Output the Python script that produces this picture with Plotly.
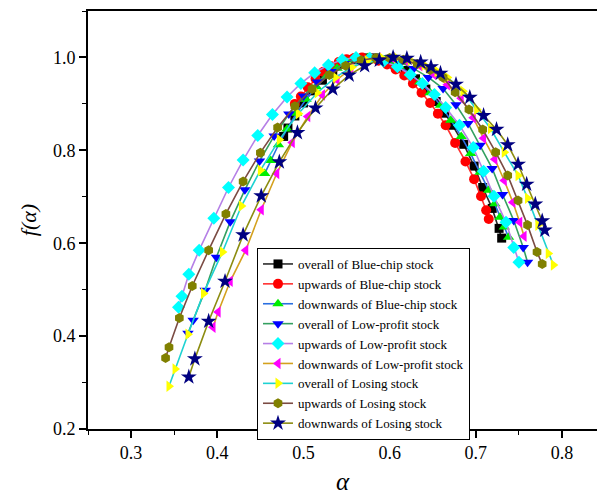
import plotly.graph_objects as go

series_names = [
    "overall of Blue-chip stock",
    "upwards of Blue-chip stock",
    "downwards of Blue-chip stock",
    "overall of Low-profit stock",
    "upwards of Low-profit stock",
    "downwards of Low-profit stock",
    "overall of Losing stock",
    "upwards of Losing stock",
    "downwards of Losing stock",
]

bc_overall_alpha = [0.477, 0.482, 0.490, 0.500, 0.511, 0.522, 0.534, 0.546, 0.558, 0.570, 0.582, 0.594, 0.606, 0.618, 0.630, 0.642, 0.654, 0.664, 0.673, 0.686, 0.698, 0.708, 0.719, 0.727, 0.730]
bc_overall_f = [0.830, 0.848, 0.874, 0.902, 0.928, 0.951, 0.971, 0.985, 0.995, 0.999, 0.999, 0.995, 0.985, 0.972, 0.954, 0.932, 0.905, 0.880, 0.854, 0.813, 0.766, 0.720, 0.675, 0.632, 0.611]

bc_up_alpha = [0.490, 0.497, 0.505, 0.514, 0.523, 0.532, 0.541, 0.550, 0.559, 0.568, 0.577, 0.587, 0.597, 0.607, 0.617, 0.627, 0.637, 0.647, 0.656, 0.665, 0.676, 0.688, 0.698, 0.706, 0.712, 0.715]
bc_up_f = [0.900, 0.916, 0.936, 0.954, 0.969, 0.981, 0.990, 0.996, 0.999, 1.000, 0.998, 0.993, 0.985, 0.974, 0.961, 0.944, 0.924, 0.902, 0.879, 0.854, 0.816, 0.776, 0.738, 0.701, 0.671, 0.652]

bc_down_alpha = [0.455, 0.462, 0.471, 0.481, 0.492, 0.503, 0.515, 0.527, 0.539, 0.551, 0.563, 0.575, 0.587, 0.599, 0.611, 0.623, 0.635, 0.647, 0.659, 0.671, 0.683, 0.694, 0.705, 0.715, 0.722, 0.728, 0.733, 0.738]
bc_down_f = [0.750, 0.778, 0.812, 0.846, 0.880, 0.910, 0.937, 0.960, 0.977, 0.990, 0.997, 1.000, 0.998, 0.992, 0.981, 0.966, 0.947, 0.924, 0.897, 0.865, 0.830, 0.793, 0.753, 0.714, 0.685, 0.656, 0.635, 0.613]

lp_overall_alpha = [0.366, 0.372, 0.386, 0.399, 0.415, 0.432, 0.449, 0.466, 0.483, 0.500, 0.516, 0.532, 0.548, 0.564, 0.580, 0.596, 0.612, 0.628, 0.645, 0.662, 0.677, 0.691, 0.705, 0.719, 0.731, 0.744, 0.755, 0.760]
lp_overall_f = [0.406, 0.434, 0.499, 0.570, 0.646, 0.715, 0.777, 0.831, 0.878, 0.917, 0.947, 0.970, 0.987, 0.997, 1.000, 0.997, 0.990, 0.976, 0.957, 0.933, 0.898, 0.858, 0.811, 0.761, 0.705, 0.649, 0.591, 0.559]

lp_up_alpha = [0.355, 0.359, 0.367, 0.379, 0.396, 0.413, 0.430, 0.447, 0.464, 0.481, 0.497, 0.513, 0.529, 0.545, 0.561, 0.577, 0.593, 0.609, 0.624, 0.638, 0.652, 0.665, 0.681, 0.697, 0.709, 0.721, 0.735, 0.744, 0.750]
lp_up_f = [0.462, 0.486, 0.533, 0.585, 0.654, 0.720, 0.779, 0.832, 0.877, 0.915, 0.944, 0.967, 0.984, 0.995, 1.000, 0.998, 0.992, 0.980, 0.963, 0.944, 0.920, 0.892, 0.854, 0.806, 0.755, 0.701, 0.645, 0.591, 0.559]

lp_down_alpha = [0.395, 0.401, 0.415, 0.433, 0.451, 0.469, 0.487, 0.505, 0.522, 0.539, 0.555, 0.571, 0.587, 0.603, 0.619, 0.635, 0.651, 0.667, 0.683, 0.697, 0.709, 0.722, 0.733, 0.743, 0.751, 0.756]
lp_down_f = [0.419, 0.452, 0.518, 0.585, 0.672, 0.750, 0.817, 0.873, 0.919, 0.952, 0.976, 0.991, 0.999, 0.999, 0.993, 0.982, 0.964, 0.941, 0.912, 0.870, 0.826, 0.781, 0.735, 0.688, 0.645, 0.615]

ls_overall_alpha = [0.344, 0.351, 0.366, 0.384, 0.406, 0.428, 0.450, 0.472, 0.494, 0.516, 0.537, 0.556, 0.574, 0.591, 0.608, 0.624, 0.640, 0.655, 0.667, 0.685, 0.701, 0.717, 0.733, 0.749, 0.760, 0.772, 0.784, 0.790]
ls_overall_f = [0.292, 0.329, 0.404, 0.492, 0.581, 0.680, 0.757, 0.823, 0.879, 0.924, 0.957, 0.979, 0.993, 0.999, 0.999, 0.994, 0.984, 0.970, 0.957, 0.927, 0.888, 0.847, 0.796, 0.746, 0.697, 0.639, 0.578, 0.553]

ls_up_alpha = [0.340, 0.344, 0.356, 0.371, 0.390, 0.410, 0.430, 0.450, 0.470, 0.490, 0.510, 0.530, 0.549, 0.567, 0.584, 0.600, 0.616, 0.632, 0.647, 0.662, 0.676, 0.692, 0.708, 0.723, 0.737, 0.749, 0.760, 0.771, 0.777]
ls_up_f = [0.353, 0.376, 0.439, 0.508, 0.585, 0.663, 0.733, 0.795, 0.849, 0.895, 0.932, 0.962, 0.982, 0.994, 0.999, 0.999, 0.995, 0.986, 0.973, 0.957, 0.925, 0.888, 0.845, 0.796, 0.746, 0.692, 0.639, 0.581, 0.555]

ls_down_alpha = [0.367, 0.374, 0.390, 0.409, 0.430, 0.451, 0.472, 0.493, 0.514, 0.534, 0.553, 0.571, 0.588, 0.604, 0.620, 0.636, 0.648, 0.659, 0.677, 0.693, 0.709, 0.724, 0.737, 0.749, 0.759, 0.769, 0.777, 0.780]
ls_down_f = [0.312, 0.351, 0.432, 0.518, 0.618, 0.702, 0.775, 0.838, 0.891, 0.932, 0.962, 0.982, 0.994, 1.000, 0.998, 0.990, 0.980, 0.966, 0.942, 0.914, 0.875, 0.845, 0.812, 0.770, 0.727, 0.684, 0.648, 0.628]

x_tick_vals = [0.3, 0.4, 0.5, 0.6, 0.7, 0.8]
y_tick_vals = [0.2, 0.4, 0.6, 0.8, 1.0]

alphas = [bc_overall_alpha, bc_up_alpha, bc_down_alpha, lp_overall_alpha, lp_up_alpha,
          lp_down_alpha, ls_overall_alpha, ls_up_alpha, ls_down_alpha]
fs = [bc_overall_f, bc_up_f, bc_down_f, lp_overall_f, lp_up_f,
      lp_down_f, ls_overall_f, ls_up_f, ls_down_f]

line_colors = ["#2b2b2b", "#ff3030", "#2a6fe0", "#34a060", "#b57fe6",
               "#d4a11e", "#1ed2d2", "#7b4b43", "#8c8c10"]
marker_colors = ["#000000", "#ff0000", "#00ee00", "#0000ff", "#00ffff",
                 "#ff00ff", "#ffff00", "#808000", "#000080"]
symbols = ["square", "circle", "triangle-up", "triangle-down", "diamond",
           "triangle-left", "triangle-right", "hexagon", "star"]
sizes = [9, 10, 10, 10, 10, 10, 10, 10, 12]

fig = go.Figure()
for name, a, f, lc, mc, sym, sz in zip(series_names, alphas, fs, line_colors,
                                       marker_colors, symbols, sizes):
    fig.add_trace(go.Scatter(
        x=a, y=f, mode="lines+markers", name=name,
        line=dict(color=lc, width=1.6),
        marker=dict(symbol=sym, size=sz, color=mc, line=dict(width=0)),
    ))

font_family = "Liberation Serif"
tick_font = dict(family=font_family, size=18, color="black")

fig.update_layout(
    width=597, height=495,
    margin=dict(l=88, r=0, t=11, b=66),
    paper_bgcolor="white", plot_bgcolor="white",
    font=dict(family=font_family, color="black", size=17),
    showlegend=True,
    legend=dict(
        x=(257 - 88) / 509, y=(429 - 248) / 418, xanchor="left", yanchor="top",
        bgcolor="white", bordercolor="black", borderwidth=1,
        font=dict(family=font_family, size=13, color="black"),
        tracegroupgap=0,
    ),
    xaxis=dict(
        range=[0.25, 0.8406], tickvals=x_tick_vals, tickformat=".1f",
        tickfont=tick_font,
        showline=True, linecolor="black", linewidth=1.6, mirror=True,
        ticks="outside", ticklen=7, tickwidth=1.6, tickcolor="black",
        minor=dict(dtick=0.05, tick0=0.25, ticks="outside", ticklen=4,
                   tickwidth=1.4, tickcolor="black", showgrid=False),
        showgrid=False, zeroline=False,
        title=dict(text="<i>α</i>", font=dict(family=font_family, size=25), standoff=12),
    ),
    yaxis=dict(
        range=[0.2, 1.1], tickvals=y_tick_vals, tickformat=".1f",
        tickfont=tick_font,
        showline=True, linecolor="black", linewidth=1.6, mirror=False,
        ticks="outside", ticklen=7, tickwidth=1.6, tickcolor="black",
        minor=dict(dtick=0.1, tick0=0.2, ticks="outside", ticklen=4,
                   tickwidth=1.4, tickcolor="black", showgrid=False),
        showgrid=False, zeroline=False,
        title=dict(text="<i>f(α)</i>", font=dict(family=font_family, size=22), standoff=10),
    ),
)

fig.write_html("out.html")
